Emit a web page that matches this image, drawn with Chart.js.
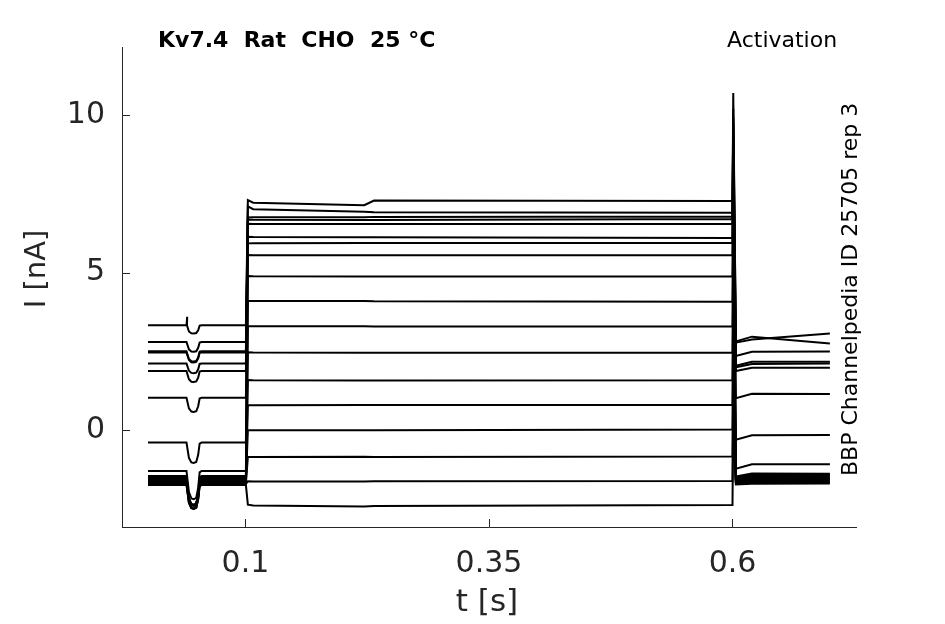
<!DOCTYPE html>
<html>
<head>
<meta charset="utf-8">
<title>Kv7.4 Activation</title>
<script src="https://cdn.jsdelivr.net/npm/chart.js@4.4.1/dist/chart.umd.min.js"></script>
<style>
    html, body { margin: 0; padding: 0; background: #ffffff; }
    #chart { display: block; }
</style>
</head>
<body>
<canvas id="chart" width="945" height="624"></canvas>
<script>
// Axis ticks
const xTicks = [0.1, 0.35, 0.6];
const xTickLabels = ['0.1', '0.35', '0.6'];
const yTicks = [0, 5, 10];
const yTickLabels = ['0', '5', '10'];

// One value per sweep, top sweep first
const holding = [3.33, 2.80, 2.51, 2.47, 2.12, 1.88, 1.03, -0.39, -1.29, -1.45, -1.50, -1.54, -1.58, -1.61, -1.64, -1.67, -1.70, -1.74];
const prePulse = [0.27, 0, 0, 0, 0, 0, 0, 0, 0, 0, 0, 0, 0, 0, 0, 0, 0, 0];
const dipDepth = [0.26, 0.31, 0.33, 0.32, 0.31, 0.35, 0.45, 0.65, 0.9, 0.95, 0.9, 0.85, 0.8, 0.75, 0.85, 0.7, 0.8, 0.75];
const stepOn = [7.30, 7.10, 6.75, 6.68, 6.55, 6.14, 5.93, 5.56, 4.89, 4.10, 3.30, 2.47, 1.59, 0.79, 0.00, -0.85, -1.62, -2.36];
const stepMidA = [7.14, 6.93, 6.76, 6.67, 6.54, 6.12, 5.94, 5.55, 4.88, 4.10, 3.30, 2.46, 1.58, 0.80, 0.00, -0.84, -1.63, -2.42];
const stepMidB = [7.29, 6.92, 6.77, 6.67, 6.54, 6.12, 5.94, 5.55, 4.88, 4.09, 3.29, 2.46, 1.58, 0.80, 0.00, -0.85, -1.62, -2.40];
const stepEnd = [7.27, 6.90, 6.78, 6.70, 6.55, 6.10, 5.95, 5.55, 4.89, 4.08, 3.30, 2.47, 1.59, 0.80, 0.02, -0.83, -1.61, -2.37];
const spikePeak = [10.7, 10.2, 9.9, 9.7, 9.4, 9.0, 8.6, 8.1, 7.5, 6.8, 6.0, 5.2, 4.4, 3.6, 2.8, 2.0, 1.2, 0.4];
const tailHook = [2.78, 2.82, 2.36, 2.05, 2.00, 1.88, 1.02, -0.30, -1.22, -1.47, -1.50, -1.54, -1.57, -1.60, -1.63, -1.66, -1.69, -1.72];
const tailStart = [2.88, 2.97, 2.49, 2.17, 2.10, 1.98, 1.16, -0.16, -1.08, -1.37, -1.42, -1.46, -1.50, -1.54, -1.58, -1.62, -1.66, -1.70];
const tailEnd = [3.07, 2.75, 2.50, 2.17, 2.12, 1.98, 1.15, -0.15, -1.08, -1.38, -1.42, -1.47, -1.51, -1.55, -1.59, -1.63, -1.66, -1.69];

// Test-pulse blip shape (time, fraction of dip depth)
const dipTimes = [0.0400, 0.0420, 0.0445, 0.0470, 0.0495, 0.0515, 0.0530, 0.0550];
const dipShape = [0, 0.75, 0.97, 1, 0.95, 0.6, 0.05, 0];

const titleText = 'Kv7.4  Rat  CHO  25 \u00B0C';
const protocolText = 'Activation';
const sourceText = 'BBP Channelpedia ID 25705 rep 3';

const axisColor = '#262626';
const fontFamily = "'DejaVu Sans', 'Liberation Sans', sans-serif";

// Build one sweep from its read levels
function buildSweep(i) {
    const pts = [{ x: 0, y: holding[i] }, { x: 0.0395, y: holding[i] }];
    if (prePulse[i]) {
        pts.push({ x: 0.0402, y: holding[i] + prePulse[i] });
    }
    dipTimes.forEach((t, k) => {
        pts.push({ x: t, y: holding[i] - dipDepth[i] * dipShape[k] });
    });
    pts.push({ x: 0.1005, y: holding[i] });
    pts.push({ x: 0.1025, y: stepOn[i] });
    pts.push({ x: 0.108, y: (stepOn[i] + stepMidA[i]) / 2 });
    pts.push({ x: 0.222, y: stepMidA[i] });
    pts.push({ x: 0.232, y: stepMidB[i] });
    pts.push({ x: 0.6, y: stepEnd[i] });
    pts.push({ x: 0.6008, y: spikePeak[i] });
    pts.push({ x: 0.6035, y: tailHook[i] });
    pts.push({ x: 0.62, y: tailStart[i] });
    pts.push({ x: 0.7, y: tailEnd[i] });
    return pts;
}

const datasets = holding.map((h, i) => ({
    data: buildSweep(i),
    borderColor: '#000000',
    borderWidth: 2,
    pointRadius: 0,
    fill: false,
    tension: 0
}));

// Inward tick marks, labels and axis titles
const decorPlugin = {
    id: 'decor',
    afterDraw(chart) {
        const ctx = chart.ctx;
        const xs = chart.scales.x;
        const ys = chart.scales.y;
        const area = chart.chartArea;
        ctx.save();
        ctx.strokeStyle = axisColor;
        ctx.lineWidth = 1;
        xTicks.forEach(v => {
            const px = Math.round(xs.getPixelForValue(v)) + 0.5;
            ctx.beginPath();
            ctx.moveTo(px, area.bottom);
            ctx.lineTo(px, area.bottom - 8);
            ctx.stroke();
        });
        yTicks.forEach(v => {
            const py = Math.round(ys.getPixelForValue(v)) + 0.5;
            ctx.beginPath();
            ctx.moveTo(area.left, py);
            ctx.lineTo(area.left + 8, py);
            ctx.stroke();
        });

        ctx.fillStyle = axisColor;
        ctx.textBaseline = 'middle';
        ctx.textAlign = 'center';
        ctx.font = '31px ' + fontFamily;
        ctx.fillText('t [s]', (area.left + area.right) / 2 - 2, 603);
        ctx.font = '29px ' + fontFamily;
        ctx.save();
        ctx.translate(37, 269);
        ctx.rotate(-Math.PI / 2);
        ctx.fillText('I [nA]', 0, 0);
        ctx.restore();

        ctx.fillStyle = '#000000';
        ctx.textBaseline = 'alphabetic';
        ctx.textAlign = 'left';
        ctx.font = 'bold 22px ' + fontFamily;
        ctx.fillText(titleText, 158, 47);
        ctx.font = '22px ' + fontFamily;
        ctx.fillText(protocolText, 727, 47);
        ctx.save();
        ctx.translate(857, 476);
        ctx.rotate(-Math.PI / 2);
        ctx.fillText(sourceText, 0, 0);
        ctx.restore();
        ctx.restore();
    }
};

new Chart(document.getElementById('chart'), {
    type: 'line',
    data: { datasets: datasets },
    options: {
        responsive: false,
        animation: false,
        devicePixelRatio: 1,
        layout: { padding: { left: 0, right: 89, top: 47, bottom: 0 } },
        plugins: {
            legend: { display: false },
            tooltip: { enabled: false }
        },
        scales: {
            x: {
                type: 'linear',
                min: -0.0267,
                max: 0.7268,
                afterFit: scale => { scale.height = 97; },
                afterBuildTicks: scale => { scale.ticks = xTicks.map(v => ({ value: v })); },
                grid: { display: false, drawTicks: false },
                border: { display: true, color: axisColor, width: 1 },
                ticks: {
                    padding: 19,
                    color: axisColor,
                    font: { family: fontFamily, size: 30 },
                    maxRotation: 0,
                    callback: (v) => xTickLabels[xTicks.indexOf(v)]
                }
            },
            y: {
                type: 'linear',
                min: -3.07,
                max: 12.16,
                afterFit: scale => { scale.width = 122; },
                afterBuildTicks: scale => { scale.ticks = yTicks.map(v => ({ value: v })); },
                grid: { display: false, drawTicks: false },
                border: { display: true, color: axisColor, width: 1 },
                ticks: {
                    padding: 17,
                    color: axisColor,
                    font: { family: fontFamily, size: 30 },
                    callback: (v) => yTickLabels[yTicks.indexOf(v)]
                }
            }
        }
    },
    plugins: [decorPlugin]
});
</script>
</body>
</html>
